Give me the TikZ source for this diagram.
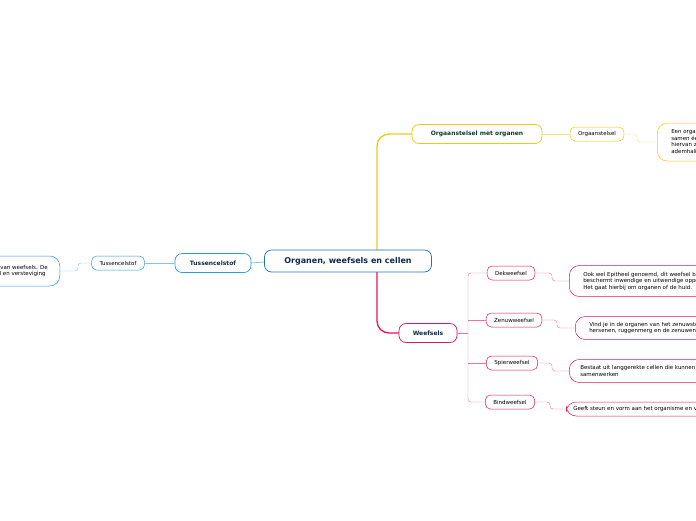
\documentclass[tikz,border=0pt]{standalone}
\usepackage{fontspec}
\setmainfont{DejaVu Sans}
\usetikzlibrary{positioning}
\definecolor{orgyellow}{HTML}{F5C518}
\definecolor{weefpink}{HTML}{E0165F}
\definecolor{tusblue}{HTML}{2D9BE0}
\definecolor{centblue}{HTML}{1F6FC0}
\definecolor{darktext}{HTML}{10284A}
\definecolor{darkgreen}{HTML}{0B3D2E}
\tikzset{
  mainbox/.style={draw=centblue, rounded corners=7pt, line width=0.7pt, fill=white, font=\fontsize{8}{9}\selectfont\bfseries, text=darktext, minimum width=167pt, minimum height=22pt},
  topicbox/.style={draw=#1, rounded corners=7pt, line width=0.7pt, fill=white, font=\fontsize{6}{7}\selectfont\bfseries, minimum height=19pt, inner xsep=8pt},
  subbox/.style={draw=#1, rounded corners=5pt, line width=0.5pt, fill=white, font=\fontsize{5.5}{6.5}\selectfont, minimum height=14pt, inner xsep=8pt},
  descbox/.style={draw=#1, rounded corners=10pt, line width=0.5pt, fill=white, font=\fontsize{5.5}{6.5}\selectfont, align=left, anchor=west, inner xsep=14pt, inner ysep=4pt},
  link/.style={draw=#1!60, line width=0.4pt, rounded corners=3pt},
  mainlink/.style={draw=#1, line width=1.3pt, rounded corners=12pt}
}
\begin{document}
\begin{tikzpicture}[x=1pt, y=-1pt]
  \useasboundingbox (0,0) rectangle (696,520);
  \clip (0,0) rectangle (696,520);
  % main branches
  \draw[mainlink=orgyellow] (377,250) -- (377,134) -- (412,134);
  \draw[mainlink=weefpink] (377,272) -- (377,333) -- (399,333);
  \draw[link=tusblue, line width=0.8pt] (265,262) -- (251,263);
  % nodes
  \node[mainbox] (central) at (348,261) {Organen, weefsels en cellen};
  \node[topicbox=orgyellow, text=darkgreen, minimum width=130pt] (orgaan) at (477,134) {Orgaanstelsel met organen};
  \node[topicbox=weefpink, text=darktext, minimum width=58pt] (weefsels) at (428,333) {Weefsels};
  \node[topicbox=tusblue, text=darktext, minimum width=76pt] (tussen) at (213,263) {Tussencelstof};
  % orgaanstelsel
  \node[subbox=orgyellow] (stelsel) at (597,134) {Orgaanstelsel};
  \node[descbox=orgyellow, minimum height=38pt] (stelseltxt) at (657,142) {Een orgaanstelsel bestaat uit organen die\\samen één functie uitvoeren. Voorbeelden\\hiervan zijn het spijsverteringsstelsel en het\\ademhalingsstelsel.};
  \draw[link=orgyellow] (orgaan) -- (stelsel);
  \draw[link=orgyellow] (stelsel.east) -- (637,134) -- (637,142) -- (stelseltxt.west);
  % weefsels
  \node[subbox=weefpink] (dek) at (511,273) {Dekweefsel};
  \node[subbox=weefpink] (zenuw) at (514,320) {Zenuwweefsel};
  \node[subbox=weefpink] (spier) at (512,363) {Spierweefsel};
  \node[subbox=weefpink] (bind) at (510,402) {Bindweefsel};
  \node[descbox=weefpink, minimum height=31pt] (dektxt) at (569,281) {Ook wel Epitheel genoemd, dit weefsel bedekt en\\beschermt inwendige en uitwendige oppervlakken.\\Het gaat hierbij om organen of de huid.};
  \node[descbox=weefpink, minimum height=23pt] (zenuwtxt) at (575,328) {Vind je in de organen van het zenuwstelsel zoals de\\hersenen, ruggenmerg en de zenuwen.};
  \node[descbox=weefpink, minimum height=23pt, inner xsep=11pt] (spiertxt) at (569,371) {Bestaat uit langgerekte cellen die kunnen samentrekken en\\samenwerken};
  \node[descbox=weefpink, minimum height=14pt, inner xsep=7pt] (bindtxt) at (566,409) {Geeft steun en vorm aan het organisme en verbindt weefsels.};
  \draw[link=weefpink] (weefsels.east) -- (468,333);
  \draw[link=weefpink] (dek.west) -- (468,273) -- (468,402) -- (bind.west);
  \foreach \n in {zenuw,spier}
    \draw[link=weefpink] (468,0 |- \n.west) -- (\n.west);
  \draw[link=weefpink] (dek.east) -- (552,273) -- (552,281) -- (dektxt.west);
  \draw[link=weefpink] (zenuw.east) -- (557,320) -- (557,328) -- (zenuwtxt.west);
  \draw[link=weefpink] (spier.east) -- (552,363) -- (552,371) -- (spiertxt.west);
  \draw[link=weefpink] (bind.east) -- (550,402) -- (550,409) -- (bindtxt.west);
  % tussencelstof
  \node[subbox=tusblue] (tussen2) at (118,263) {Tussencelstof};
  \node[descbox=tusblue, anchor=east, minimum height=30pt, inner xsep=12pt] (tussentxt) at (60,271) {Tussencelstof ligt tussen de cellen van weefsels. De\\tussencelstof zorgt voor stevigheid en versteviging};
  \draw[link=tusblue] (tussen.west) -- (tussen2.east);
  \draw[link=tusblue] (tussen2.west) -- (78,263) -- (78,271) -- (tussentxt.east);
\end{tikzpicture}
\end{document}
